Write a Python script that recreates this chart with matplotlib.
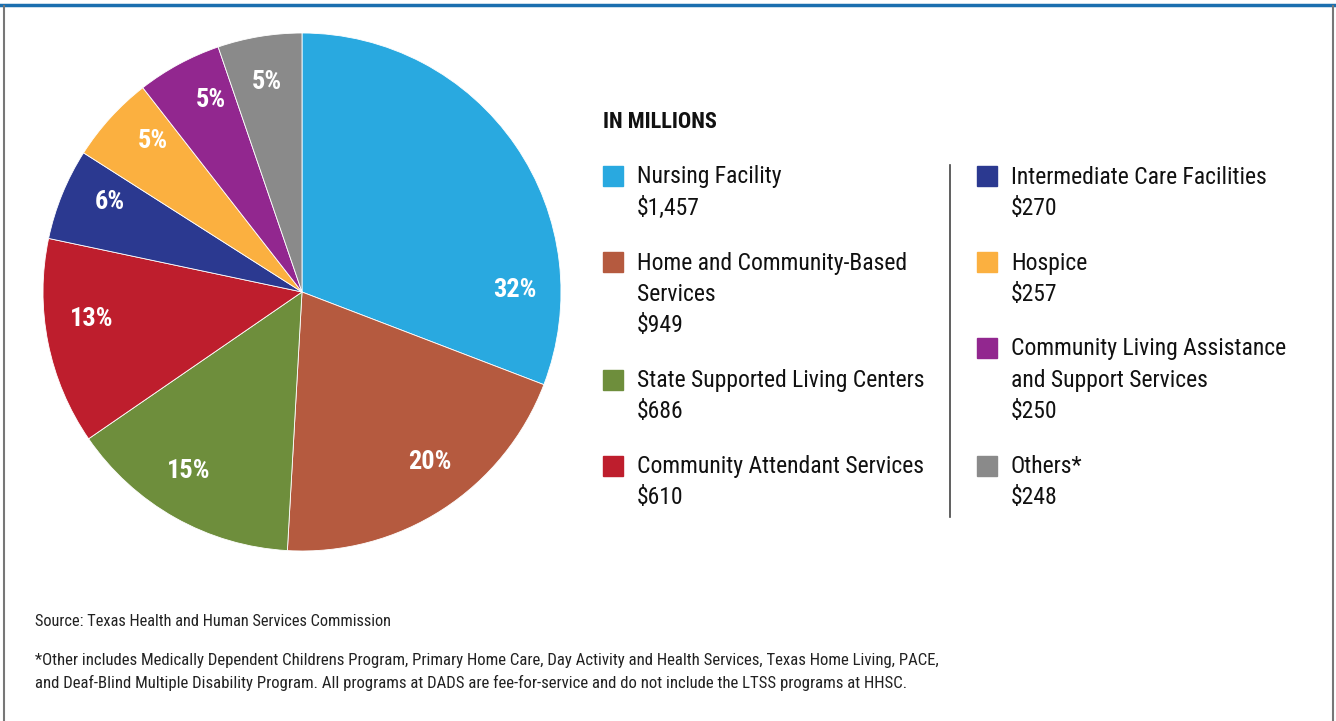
import matplotlib.pyplot as plt
import numpy as np
from matplotlib.lines import Line2D
from matplotlib.patches import Rectangle

# DADS spending by program, in millions
programs = ["Nursing Facility", "Home and Community-Based\nServices",
            "State Supported Living Centers", "Community Attendant Services",
            "Intermediate Care Facilities", "Hospice",
            "Community Living Assistance\nand Support Services", "Others*"]
amounts = [1457, 949, 686, 610, 270, 257, 250, 248]
amount_labels = ["$1,457", "$949", "$686", "$610", "$270", "$257", "$250", "$248"]
pct_labels = ["32%", "20%", "15%", "13%", "6%", "5%", "5%", "5%"]
colors = ["#29a9e0", "#b55a3f", "#6e8e3c", "#be1e2d",
          "#2b3990", "#fbb040", "#92278f", "#8a8a8a"]

FONT = ["Roboto Condensed", "Roboto", "DejaVu Sans"]
W, H = 1336, 721

fig = plt.figure(figsize=(W / 100, H / 100), dpi=100)
fig.patch.set_facecolor("white")

# pie
cx, cy, r = 302, 292, 259
ax = fig.add_axes([(cx - r) / W, (H - cy - r) / H, 2 * r / W, 2 * r / H])
wedges, _ = ax.pie(amounts, colors=colors, startangle=90, counterclock=False,
                   wedgeprops=dict(edgecolor="white", linewidth=0.6))
ax.set_xlim(-1, 1)
ax.set_ylim(-1, 1)
ax.set_aspect("equal")
ax.axis("off")

# label angle nudges (deg) so text sits like the original
nudge = [-34, 4, -3, -4, -3, -3, -3, 0]
for w, lab, dn in zip(wedges, pct_labels, nudge):
    ang = np.deg2rad((w.theta1 + w.theta2) / 2 + dn)
    ax.text(0.82 * np.cos(ang), 0.82 * np.sin(ang), lab, color="white",
            ha="center", va="center", fontsize=19, fontweight="bold", family=FONT)

# legend
def px(x, y):
    return x / W, 1 - y / H

fig.text(*px(603, 122), "IN MILLIONS", fontsize=16, fontweight="bold",
         family=FONT, ha="left", va="center", color="#111111")

line_h = 31.5
cols = [(603, 176), (977, 176)]
gap = 23
for col in range(2):
    x0, y = cols[col]
    for i in range(4):
        k = col * 4 + i
        fig.patches.append(Rectangle(px(x0, y + 10), 20 / W, 20 / H,
                                     transform=fig.transFigure, color=colors[k]))
        lines = programs[k].split("\n") + [amount_labels[k]]
        for j, t in enumerate(lines):
            fig.text(*px(x0 + 34, y + 1 + j * line_h), t, fontsize=17, family=FONT,
                     ha="left", va="center", color="#111111")
        y += len(lines) * line_h + gap

fig.add_artist(Line2D([950 / W] * 2, [1 - 165 / H, 1 - 517 / H], color="#444444", lw=1.2))

# footer
fig.text(*px(35, 622), "Source: Texas Health and Human Services Commission",
         fontsize=11.8, family=FONT, ha="left", va="center", color="#222222")
notes = ["*Other includes Medically Dependent Childrens Program, Primary Home Care, Day Activity and Health Services, Texas Home Living, PACE,",
         "and Deaf-Blind Multiple Disability Program. All programs at DADS are fee-for-service and do not include the LTSS programs at HHSC."]
for j, t in enumerate(notes):
    fig.text(*px(35, 660 + 23 * j), t, fontsize=12.1, family=FONT,
             ha="left", va="center", color="#222222")

# frame
fig.add_artist(Line2D([0, 1], [1 - 5 / H] * 2, color="#1b6faf", lw=2.5))
fig.add_artist(Line2D([3.5 / W] * 2, [0, 1 - 6 / H], color="#777777", lw=1.5))
fig.add_artist(Line2D([1332.5 / W] * 2, [0, 1 - 6 / H], color="#777777", lw=1.5))

fig.savefig("out.png", dpi=100, facecolor="white")
